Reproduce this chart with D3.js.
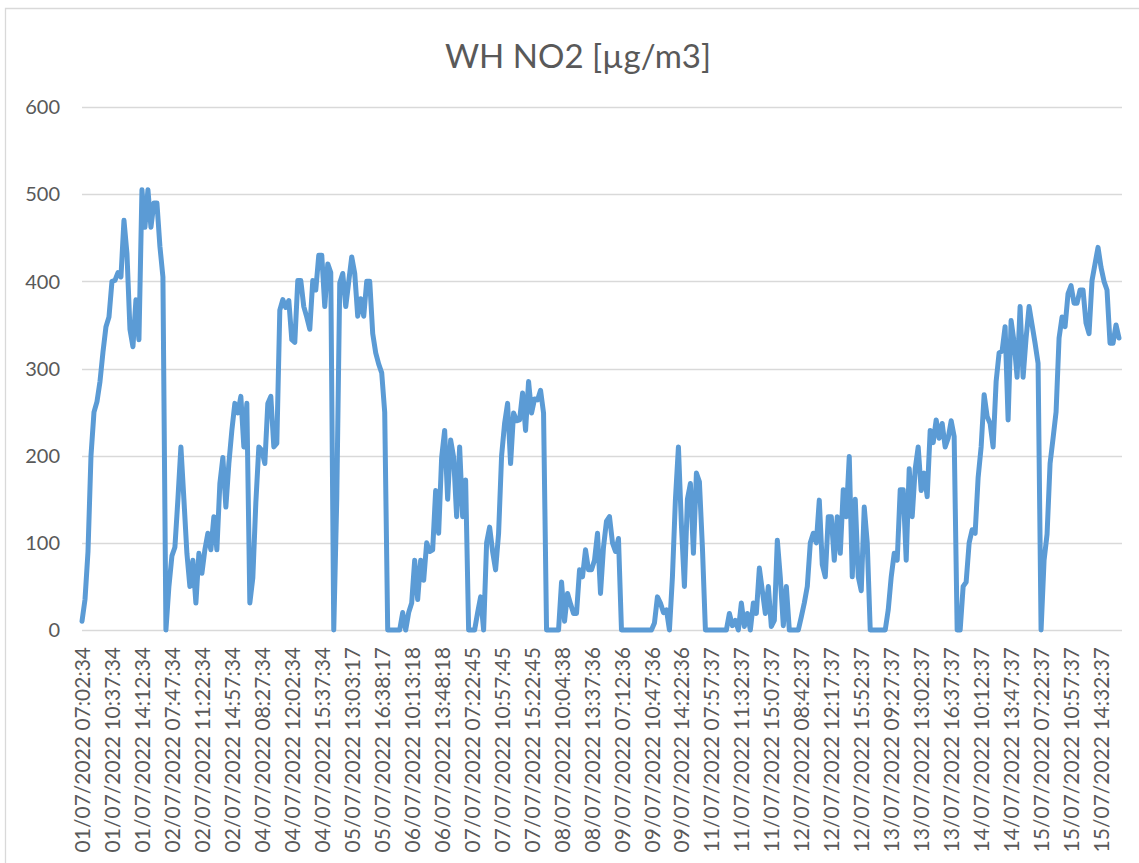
<!DOCTYPE html>
<meta charset="utf-8">

<style>

body {
  margin: 0;
  background: #fff;
}

/* Gridlines */
.grid line {
  stroke: #d9d9d9;
  stroke-width: 1.3px;
}

/* Tick labels */
.axis text {
  fill: #595959;
  font-family: Lato, sans-serif;
  font-size: 20px;
}

.x.axis text {
  font-size: 21px;
}

.title {
  fill: #595959;
  font-family: Lato, sans-serif;
  font-size: 33px;
}

/* The NO2 line */
.series {
  fill: none;
  stroke: #5b9bd5;
  stroke-width: 5px;
  stroke-linejoin: round;
  stroke-linecap: round;
}

</style>

<svg width="1139" height="863"></svg>

<script src="https://cdn.jsdelivr.net/npm/d3@7"></script>
<script>

// Category labels shown on the x axis (one every 10 readings)
var tickLabels = [
  "01/07/2022 07:02:34", "01/07/2022 10:37:34", "01/07/2022 14:12:34",
  "02/07/2022 07:47:34", "02/07/2022 11:22:34", "02/07/2022 14:57:34",
  "04/07/2022 08:27:34", "04/07/2022 12:02:34", "04/07/2022 15:37:34",
  "05/07/2022 13:03:17", "05/07/2022 16:38:17", "06/07/2022 10:13:18",
  "06/07/2022 13:48:18", "07/07/2022 07:22:45", "07/07/2022 10:57:45",
  "07/07/2022 15:22:45", "08/07/2022 10:04:38", "08/07/2022 13:37:36",
  "09/07/2022 07:12:36", "09/07/2022 10:47:36", "09/07/2022 14:22:36",
  "11/07/2022 07:57:37", "11/07/2022 11:32:37", "11/07/2022 15:07:37",
  "12/07/2022 08:42:37", "12/07/2022 12:17:37", "12/07/2022 15:52:37",
  "13/07/2022 09:27:37", "13/07/2022 13:02:37", "13/07/2022 16:37:37",
  "14/07/2022 10:12:37", "14/07/2022 13:47:37", "15/07/2022 07:22:37",
  "15/07/2022 10:57:37", "15/07/2022 14:32:37"
];
var labelEvery = 10;

// WH NO2 readings [µg/m3]
var no2 = [
  10, 35, 90, 200, 250, 262, 285, 319, 348, 359,
  400, 401, 410, 405, 470, 432, 345, 325, 379, 333,
  505, 462, 505, 462, 490, 490, 440, 405, 0, 50,
  85, 95, 150, 210, 150, 88, 50, 80, 31, 88,
  65, 92, 111, 92, 130, 92, 168, 198, 141, 191,
  229, 260, 249, 268, 210, 260, 31, 60, 146, 210,
  206, 191, 260, 268, 210, 214, 367, 379, 370, 378,
  333, 330, 401, 401, 371, 359, 345, 401, 390, 430,
  430, 371, 420, 410, 0, 150, 398, 409, 371, 400,
  428, 409, 360, 380, 360, 400, 400, 340, 318, 305,
  295, 250, 0, 0, 0, 0, 0, 20, 0, 20,
  31, 80, 35, 80, 57, 100, 90, 92, 160, 111,
  198, 229, 150, 218, 198, 130, 210, 130, 172, 0,
  0, 0, 20, 38, 0, 100, 118, 90, 69, 111,
  200, 237, 260, 191, 249, 240, 241, 272, 229, 285,
  249, 265, 264, 275, 249, 0, 0, 0, 0, 0,
  55, 10, 42, 30, 19, 19, 69, 61, 92, 69,
  69, 80, 111, 42, 95, 125, 130, 100, 90, 105,
  0, 0, 0, 0, 0, 0, 0, 0, 0, 0,
  0, 8, 38, 31, 20, 23, 0, 61, 150, 210,
  120, 50, 150, 168, 88, 180, 170, 95, 0, 0,
  0, 0, 0, 0, 0, 0, 19, 5, 11, 0,
  31, 4, 19, 0, 31, 19, 71, 45, 19, 50,
  4, 11, 103, 60, 5, 50, 0, 0, 0, 0,
  15, 31, 50, 100, 111, 100, 149, 75, 61, 130,
  130, 80, 130, 88, 161, 130, 199, 61, 150, 61,
  45, 141, 100, 0, 0, 0, 0, 0, 0, 23,
  61, 88, 80, 161, 161, 80, 185, 130, 185, 210,
  160, 180, 153, 229, 215, 241, 220, 237, 210, 220,
  240, 222, 0, 0, 50, 55, 100, 115, 111, 175,
  210, 270, 245, 237, 210, 285, 318, 320, 348, 241,
  355, 330, 290, 371, 290, 335, 371, 350, 329, 306,
  0, 80, 110, 191, 220, 250, 335, 359, 348, 386,
  395, 375, 375, 390, 390, 352, 340, 401, 420, 439,
  416, 400, 390, 329, 329, 350, 335
];

var yTicks = [0, 100, 200, 300, 400, 500, 600];

var svg = d3.select("svg"),
    width = +svg.attr("width"),
    height = +svg.attr("height");

var plot = {left: 82, right: 1122, top: 107, bottom: 630};

// Chart area border
svg.append("path")
    .attr("d", "M5.5," + (height + 5) + "V8.5H" + (width + 10))
    .attr("fill", "none")
    .attr("stroke", "#d9d9d9")
    .attr("stroke-width", 1.3);

var x = d3.scaleLinear()
    .domain([0, no2.length])
    .range([plot.left, plot.right]);

var y = d3.scaleLinear()
    .domain([0, 600])
    .range([plot.bottom, plot.top]);

// Horizontal gridlines
svg.append("g")
    .attr("class", "grid")
  .selectAll("line")
  .data(yTicks)
  .enter().append("line")
    .attr("x1", plot.left)
    .attr("x2", plot.right)
    .attr("y1", function(d) { return Math.round(y(d)) + 0.5; })
    .attr("y2", function(d) { return Math.round(y(d)) + 0.5; });

// Y axis labels
var yAxis = svg.append("g")
    .attr("class", "y axis")
    .attr("transform", "translate(60,0)")
    .call(d3.axisLeft(y).tickValues(yTicks).tickSize(0).tickPadding(0));
yAxis.select(".domain").remove();
yAxis.selectAll("text").attr("dy", "0.34em");

// X axis labels, rotated
var xAxis = svg.append("g")
    .attr("class", "x axis")
    .attr("transform", "translate(0," + plot.bottom + ")")
    .call(d3.axisBottom(x)
        .tickValues(tickLabels.map(function(d, i) { return i * labelEvery; }))
        .tickFormat(function(d) { return tickLabels[d / labelEvery]; })
        .tickSize(0));
xAxis.select(".domain").remove();
xAxis.selectAll("text")
    .attr("transform", "rotate(-90)")
    .attr("text-anchor", "end")
    .attr("x", -17)
    .attr("y", 0)
    .attr("dy", "0.36em");

// Line
var line = d3.line()
    .x(function(d, i) { return x(i); })
    .y(function(d) { return y(d); });

svg.append("path")
    .datum(no2)
    .attr("class", "series")
    .attr("d", line);

// Title
svg.append("text")
    .attr("class", "title")
    .attr("x", 578)
    .attr("y", 68)
    .attr("text-anchor", "middle")
    .text("WH NO2 [µg/m3]");

</script>
